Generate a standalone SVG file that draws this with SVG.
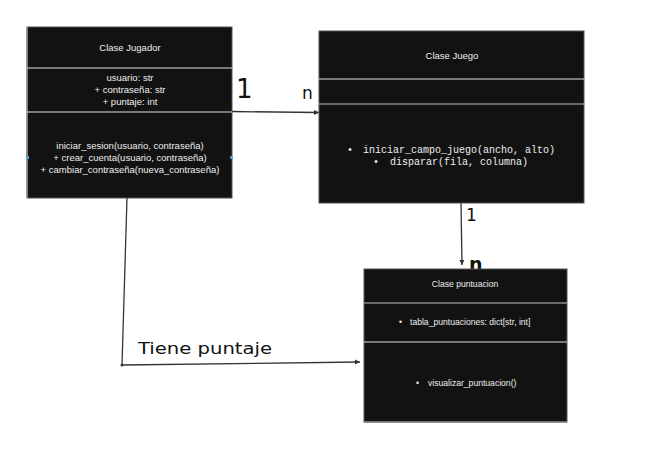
<svg xmlns="http://www.w3.org/2000/svg" width="669" height="467" viewBox="0 0 669 467">
<style>
.box{fill:#121212;stroke:#555;stroke-width:1}
.sep{stroke:#e0e0e0;stroke-width:1}
.sepg{stroke:#888;stroke-width:1.5}
.t{font-family:"Liberation Sans",Arial,sans-serif;font-size:9.5px;fill:#eeeeee;text-anchor:middle}
.s{font-family:"Liberation Sans",Arial,sans-serif;font-size:8.6px;fill:#eeeeee}
.m{font-family:"Liberation Mono","DejaVu Sans Mono",monospace;font-size:10px;fill:#eeeeee}
.conn{stroke:#333;stroke-width:1.3;fill:none}
.hand{font-family:"DejaVu Sans",sans-serif;fill:#111}
</style>
<defs>
<marker id="ah" markerWidth="6" markerHeight="6" refX="5" refY="3" orient="auto" markerUnits="userSpaceOnUse">
<path d="M0,0.5 L5,3 L0,5.5 Z" fill="#333"/>
</marker>
</defs>
<g id="connectors">
<path class="conn" d="M232,111.5 L319,112.5" marker-end="url(#ah)"/>
<path class="conn" d="M461,203 L462,265" marker-end="url(#ah)"/>
<path class="conn" d="M127,198 L122,365 L360,362" marker-end="url(#ah)"/>
<circle cx="122" cy="365" r="1.5" fill="#333"/>
<text class="hand" x="236" y="98" font-size="26">1</text>
<text class="hand" x="302" y="99" font-size="17">n</text>
<text class="hand" x="466" y="221" font-size="17">1</text>
<text class="hand" x="469" y="271" font-size="19" font-weight="bold">n</text>
<text class="hand" x="138" y="354" font-size="16" textLength="134" lengthAdjust="spacingAndGlyphs">Tiene puntaje</text>
</g>
<g id="jugador">
<rect class="box" x="27" y="27" width="205" height="171"/>
<line x1="27" y1="27" x2="27" y2="198" stroke="#999" stroke-width="1.5"/>
<line class="sep" x1="27" y1="68" x2="232" y2="68"/>
<line class="sep" x1="27" y1="112" x2="232" y2="112"/>
<text class="t" x="130" y="51">Clase Jugador</text>
<text class="t" x="130" y="81">usuario: str</text>
<text class="t" x="130" y="93">+ contraseña: str</text>
<text class="t" x="130" y="105">+ puntaje: int</text>
<text class="t" x="130" y="149">iniciar_sesion(usuario, contraseña)</text>
<text class="t" x="130" y="161">+ crear_cuenta(usuario, contraseña)</text>
<text class="t" x="130" y="173">+ cambiar_contraseña(nueva_contraseña)</text>
<rect x="26" y="156" width="3" height="3" fill="#4aa3df"/>
<rect x="230" y="156" width="3" height="3" fill="#4aa3df"/>
</g>
<g id="juego">
<rect class="box" x="319" y="31" width="265" height="172"/>
<line class="sep" x1="319" y1="79" x2="584" y2="79"/>
<line class="sepg" x1="319" y1="104" x2="584" y2="104"/>
<text class="t" x="452" y="59">Clase Juego</text>
<text class="m" x="347" y="153">•</text>
<text class="m" x="363" y="153">iniciar_campo_juego(ancho, alto)</text>
<text class="m" x="373" y="165">•</text>
<text class="m" x="390" y="165">disparar(fila, columna)</text>
</g>
<g id="puntuacion">
<rect class="box" x="364" y="269" width="203" height="153"/>
<line class="sepg" x1="364" y1="303" x2="567" y2="303"/>
<line class="sep" x1="364" y1="342" x2="567" y2="342"/>
<line class="sepg" x1="364" y1="422" x2="567" y2="422"/>
<text class="s" x="465" y="287" text-anchor="middle" font-size="8.3">Clase puntuacion</text>
<text class="s" x="399" y="325">•</text>
<text class="s" x="410" y="325">tabla_puntuaciones: dict[str, int]</text>
<text class="s" x="416" y="386">•</text>
<text class="s" x="428" y="386">visualizar_puntuacion()</text>
</g>
</svg>
